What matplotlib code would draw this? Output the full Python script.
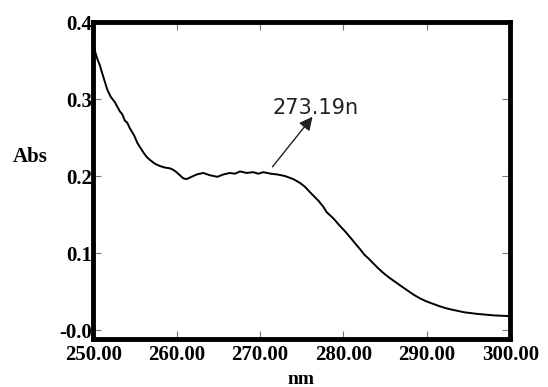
import matplotlib.pyplot as plt

# wavelength (nm) and absorbance
wavelength = [250.0, 250.2, 250.5, 250.8, 251.1, 251.3, 251.7, 252.1, 252.6, 252.9, 253.2,
              253.5, 253.8, 254.1, 254.4, 254.9, 255.3, 255.7, 256.0, 256.4, 256.8, 257.4,
              258.0, 258.6, 259.2, 259.6, 260.0, 260.4, 260.8, 261.2, 261.6, 262.4, 263.2,
              264.0, 264.9, 265.6, 266.4, 267.0, 267.6, 268.4, 269.2, 269.8, 270.4, 271.3,
              272.1, 273.0, 274.0, 274.8, 275.4, 276.0, 277.0, 277.6, 278.0, 278.8, 279.6,
              280.3, 281.0, 281.6, 282.0, 282.5, 283.0, 284.1, 284.8, 285.5, 286.8, 287.6,
              288.4, 289.2, 290.0, 291.5, 292.4, 293.2, 294.5, 296.0, 298.0, 300.0]
absorbance = [0.372, 0.363, 0.352, 0.344, 0.333, 0.326, 0.312, 0.303, 0.296, 0.290, 0.284,
              0.280, 0.272, 0.269, 0.262, 0.253, 0.243, 0.236, 0.231, 0.225, 0.221, 0.216,
              0.213, 0.211, 0.210, 0.208, 0.205, 0.201, 0.197, 0.196, 0.198, 0.202, 0.204,
              0.201, 0.199, 0.202, 0.204, 0.203, 0.206, 0.204, 0.205, 0.203, 0.205, 0.203,
              0.202, 0.200, 0.196, 0.191, 0.186, 0.179, 0.168, 0.160, 0.153, 0.145, 0.135,
              0.127, 0.118, 0.110, 0.105, 0.098, 0.093, 0.081, 0.074, 0.068, 0.058, 0.052,
              0.046, 0.041, 0.037, 0.031, 0.028, 0.026, 0.023, 0.021, 0.019, 0.018]

xticks = [250, 260, 270, 280, 290, 300]
xtick_labels = ['250.00', '260.00', '270.00', '280.00', '290.00', '300.00']
yticks = [0.0, 0.1, 0.2, 0.3, 0.4]
ytick_labels = ['-0.0', '0.1', '0.2', '0.3', '0.4']

peak_label = '273.19n'

fig = plt.figure(figsize=(5.48, 3.87), dpi=100)
ax = fig.add_axes([0.170, 0.124, 0.761, 0.819])

ax.plot(wavelength, absorbance, color='black', lw=1.4)

ax.set_xlim(250, 300)
ax.set_ylim(-0.0117, 0.4)

serif = 'Liberation Serif'
ax.set_xticks(xticks)
ax.set_xticklabels(xtick_labels, fontfamily=serif, fontweight='bold', fontsize=15)
ax.set_yticks(yticks)
ax.set_yticklabels(ytick_labels, fontfamily=serif, fontweight='bold', fontsize=15)
ax.tick_params(direction='in', length=6, width=0.8, color='#777777',
               top=True, right=True, pad=1)
ax.tick_params(axis='x', pad=4)

for s in ax.spines.values():
    s.set_linewidth(3.5)

fig.text(0.024, 0.595, 'Abs', fontfamily=serif, fontweight='bold', fontsize=15,
         ha='left', va='center')
fig.text(0.55, 0.02, 'nm', fontfamily=serif, fontweight='bold', fontsize=14,
         ha='center', va='center')

# peak marker: arrow from the curve up to the label
ax.annotate('', xy=(276.3, 0.277), xytext=(271.5, 0.212),
            arrowprops=dict(arrowstyle='-|>', color='#222222', lw=1,
                            mutation_scale=20, shrinkA=0, shrinkB=0))
ax.text(271.5, 0.288, peak_label, fontsize=15, color='#222222',
        ha='left', va='center')

fig.savefig('out.png', dpi=100)
